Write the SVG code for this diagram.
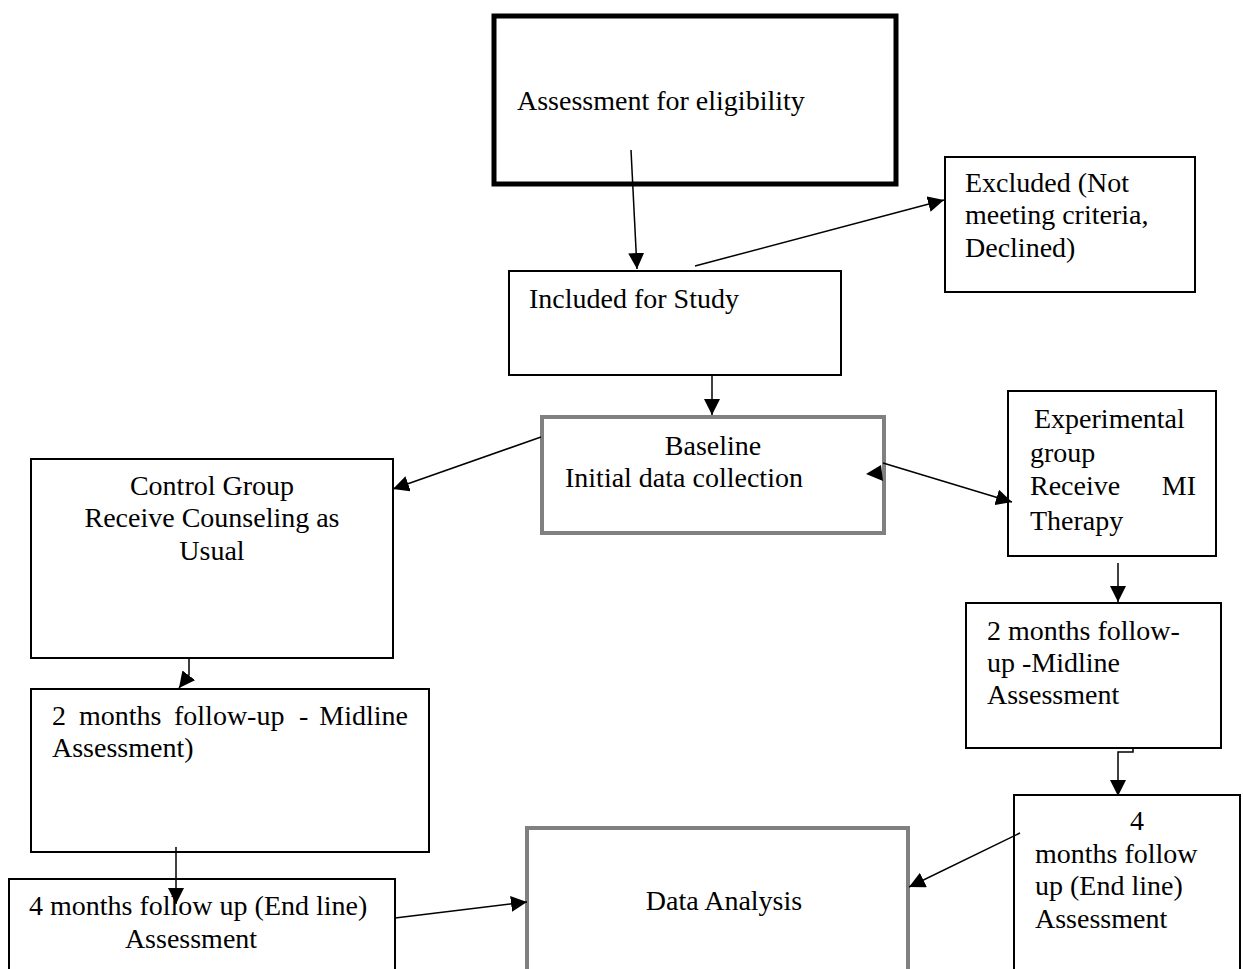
<svg xmlns="http://www.w3.org/2000/svg" width="1243" height="969" viewBox="0 0 1243 969">
<style>
text{font-family:"Liberation Serif","Times New Roman",serif;font-size:28px;fill:#000}
.b{fill:#fff;stroke:#000;stroke-width:2}
.g{fill:#fff;stroke:#808080;stroke-width:4}
.c{fill:none;stroke:#000;stroke-width:1.5}
</style>
<defs>
<marker id="ahL" viewBox="0 0 10 10" refX="10" refY="5" markerWidth="16" markerHeight="16" markerUnits="userSpaceOnUse" orient="auto"><path d="M0,0 L10,5 L0,10 z" fill="#000"/></marker>
</defs>
<rect width="1243" height="969" fill="#fff"/>
<g id="assessment"><rect x="494" y="16" width="402" height="168" fill="#fff" stroke="#000" stroke-width="5"/><text x="517" y="110">Assessment for eligibility</text></g>
<g id="included"><rect class="b" x="509" y="271" width="332" height="104"/><text x="529" y="308">Included for Study</text></g>
<g id="excluded"><rect class="b" x="945" y="157" width="250" height="135"/><text x="965" y="192">Excluded (Not</text><text x="965" y="224">meeting criteria,</text><text x="965" y="257">Declined)</text></g>
<g id="baseline"><rect class="g" x="542" y="417" width="342" height="116"/><text x="713" y="455" text-anchor="middle">Baseline</text><text x="565" y="487">Initial data collection</text></g>
<g id="control"><rect class="b" x="31" y="459" width="362" height="199"/><text x="212" y="495" text-anchor="middle">Control Group</text><text x="212" y="527" text-anchor="middle">Receive Counseling as</text><text x="212" y="560" text-anchor="middle">Usual</text></g>
<g id="experimental"><rect class="b" x="1008" y="391" width="208" height="165"/><text x="1034" y="428">Experimental</text><text x="1030" y="462">group</text><text x="1030" y="495">Receive</text><text x="1196" y="495" text-anchor="end">MI</text><text x="1030" y="530">Therapy</text></g>
<g id="mid-right"><rect class="b" x="966" y="603" width="255" height="145"/><text x="987" y="640">2 months follow-</text><text x="987" y="672">up -Midline</text><text x="987" y="704">Assessment</text></g>
<g id="end-right"><rect class="b" x="1014" y="795" width="226" height="180"/><text x="1137" y="830" text-anchor="middle">4</text><text x="1035" y="863">months follow</text><text x="1035" y="895">up (End line)</text><text x="1035" y="928">Assessment</text></g>
<g id="mid-left"><rect class="b" x="31" y="689" width="398" height="163"/><text y="725"><tspan x="52">2</tspan><tspan x="79">months</tspan><tspan x="174">follow-up</tspan><tspan x="299">-</tspan></text><text x="408" y="725" text-anchor="end">Midline</text><text x="52" y="757">Assessment)</text></g>
<g id="end-left"><rect class="b" x="9" y="879" width="386" height="100"/><text x="29" y="915">4 months follow up (End line)</text><text x="191" y="948" text-anchor="middle">Assessment</text></g>
<g id="analysis"><rect class="g" x="527" y="828" width="381" height="150"/><text x="724" y="910" text-anchor="middle">Data Analysis</text></g>
<g id="connectors">
<path class="c" d="M631,150 L637,269" marker-end="url(#ahL)"/>
<path class="c" d="M695,266 L944,200" marker-end="url(#ahL)"/>
<path class="c" d="M712,374 L712,415" marker-end="url(#ahL)"/>
<path class="c" d="M541,437 L393,489" marker-end="url(#ahL)"/>
<path class="c" d="M883,463 L1012,502" marker-end="url(#ahL)"/>
<polygon points="866,474 881,465 883,481" fill="#000"/>
<path class="c" d="M1118,563 L1118,602" marker-end="url(#ahL)"/>
<path class="c" d="M1133,748 L1133,752 L1118,752 L1118,796" marker-end="url(#ahL)"/>
<path class="c" d="M1020,833 L909,887" marker-end="url(#ahL)"/>
<path class="c" d="M189,658 L189,675 L179,688" marker-end="url(#ahL)"/>
<path class="c" d="M176,847 L176,904" marker-end="url(#ahL)"/>
<path class="c" d="M395,918 L527,902" marker-end="url(#ahL)"/>
</g>
</svg>
